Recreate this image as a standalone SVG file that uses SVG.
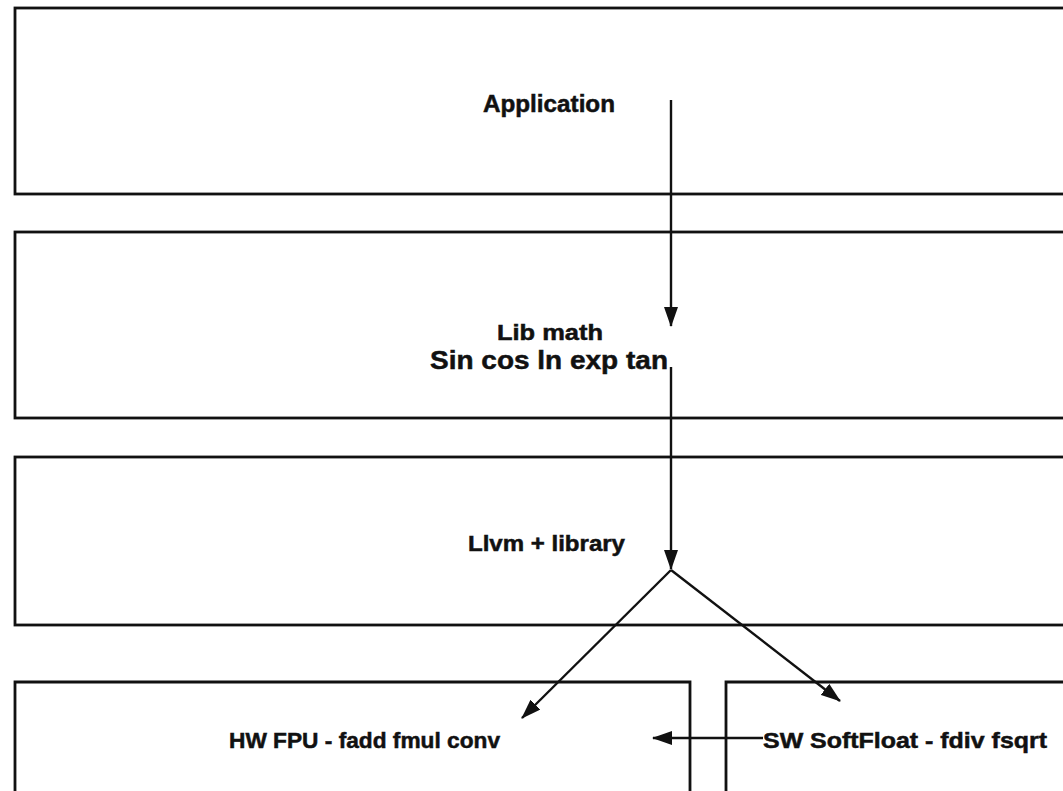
<svg xmlns="http://www.w3.org/2000/svg" width="1063" height="791" viewBox="0 0 1063 791">
<defs>
<style>
.box{fill:none;stroke:#111;stroke-width:2.8}
.lbl{font-family:"Liberation Sans",Arial,sans-serif;font-weight:bold;fill:#111;stroke:#111;stroke-width:0.5}
.con{stroke:#111;stroke-width:2.4;fill:none}
</style>
<marker id="ah" viewBox="0 0 20 14" refX="19" refY="7" markerWidth="20" markerHeight="14" markerUnits="userSpaceOnUse" orient="auto">
<path d="M0,0 L20,7 L0,14 Z" fill="#111"/>
</marker>
</defs>
<rect width="1063" height="791" fill="#fff"/>
<g id="application">
<rect class="box" x="15" y="8" width="1070" height="186"/>
<text class="lbl" x="483" y="112" font-size="23" textLength="132" lengthAdjust="spacingAndGlyphs">Application</text>
</g>
<g id="libmath">
<rect class="box" x="15" y="232" width="1070" height="186"/>
<text class="lbl" x="497" y="340" font-size="22" textLength="106" lengthAdjust="spacingAndGlyphs">Lib math</text>
<text class="lbl" x="430" y="369" font-size="26" textLength="238" lengthAdjust="spacingAndGlyphs">Sin cos ln exp tan</text>
</g>
<g id="llvm">
<rect class="box" x="15" y="457" width="1070" height="168"/>
<text class="lbl" x="468" y="551" font-size="22" textLength="157" lengthAdjust="spacingAndGlyphs">Llvm + library</text>
</g>
<g id="hwfpu">
<path class="box" d="M15,800 L15,682 L690,682 L690,800"/>
<text class="lbl" x="229" y="748" font-size="22" textLength="271" lengthAdjust="spacingAndGlyphs">HW FPU - fadd fmul conv</text>
</g>
<g id="swsoftfloat">
<path class="box" d="M726,800 L726,682 L1085,682"/>
<text class="lbl" x="763" y="748" font-size="22" textLength="284" lengthAdjust="spacingAndGlyphs">SW SoftFloat - fdiv fsqrt</text>
</g>
<g id="connectors">
<line class="con" x1="671" y1="100" x2="671" y2="326" marker-end="url(#ah)"/>
<line class="con" x1="671" y1="367" x2="671" y2="569" marker-end="url(#ah)"/>
<line class="con" x1="671" y1="570" x2="522" y2="718" marker-end="url(#ah)"/>
<line class="con" x1="671" y1="570" x2="840" y2="701" marker-end="url(#ah)"/>
<line class="con" x1="763" y1="738" x2="653" y2="738" marker-end="url(#ah)"/>
</g>
</svg>
